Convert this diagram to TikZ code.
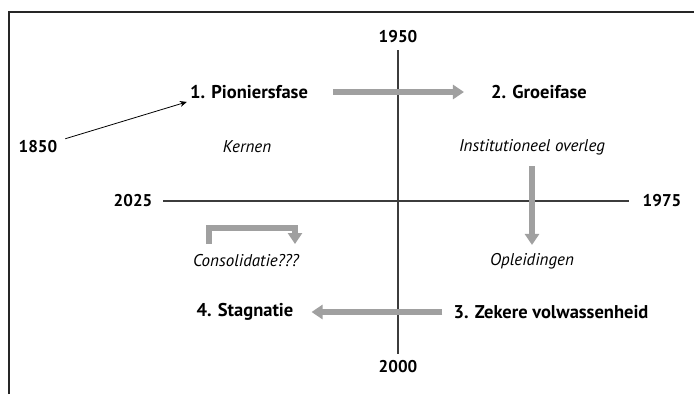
\documentclass[tikz,border=0pt]{standalone}
\usepackage{fontspec}
\setmainfont{PT Sans}
\usepackage{xcolor}
\definecolor{flowgray}{RGB}{160,160,160}
\definecolor{axisgray}{RGB}{60,60,60}
\usepackage{tikz}
\usetikzlibrary{arrows.meta}
\tikzset{
    common/.style={inner sep=3pt},
    year/.style={common, font=\fontsize{17}{19}\selectfont\bfseries},
    phase/.style={common, font=\fontsize{18.5}{20}\selectfont\bfseries},
    theme/.style={common, font=\fontsize{17}{19}\selectfont\itshape},
    axis/.style={draw=axisgray, line width=1.1pt},
    frame/.style={draw=black!85, line width=1.4pt},
    flow/.style={draw=flowgray, line width=6pt, -{Triangle[width=14pt, length=11pt]}},
    pointer/.style={draw=black, line width=0.8pt, -{Stealth[length=7pt, width=6pt]}}
}
\begin{document}
\begin{tikzpicture}[x=1pt, y=-1pt]
    \useasboundingbox (0,0) rectangle (694,394);
    \draw[frame] (9,394) -- (9,12) -- (694,12);

    \path
        node[year] (y1950) at (398,37) {1950}
        node[year] (y2000) at (398,367) {2000}
        node[year] (y2025) at (133,201) {2025}
        node[year] (y1975) at (662,201) {1975}
        node[year] (y1850) at (38,147) {1850};
    \path
        node[phase] (pionier) at (249,92) {1. Pioniersfase}
        node[phase] (groei) at (539,92) {2. Groeifase}
        node[phase] (zekere) at (551,312) {3. Zekere volwassenheid}
        node[phase] (stagnatie) at (245,312) {4. Stagnatie};
    \path
        node[theme] (kernen) at (247,147) {Kernen}
        node[theme] (overleg) at (532,147) {Institutioneel overleg}
        node[theme] (opleiding) at (532,261) {Opleidingen}
        node[theme] (consol) at (246,261) {Consolidatie???};
    \coordinate (cL) at (209,244);
    \coordinate (cR) at (295,244);

    \draw[axis, shorten <=4pt, shorten >=4pt] (y1950) -- (y2000);
    \draw[axis, shorten <=8pt, shorten >=11pt] (y2025) -- (y1975);
    \draw[pointer, shorten <=5pt] (y1850) -- (pionier.south west);
    \draw[flow, shorten <=22pt, shorten >=24pt] (pionier.east) -- (groei.west);
    \draw[flow, shorten <=8pt, shorten >=5pt] (overleg.south) -- (opleiding.north);
    \draw[flow, shorten <=8pt, shorten >=15pt] (zekere.west) -- (stagnatie.east);
    \draw[flow] (cL) -- ++(0,-16) -| (cR);
\end{tikzpicture}
\end{document}
